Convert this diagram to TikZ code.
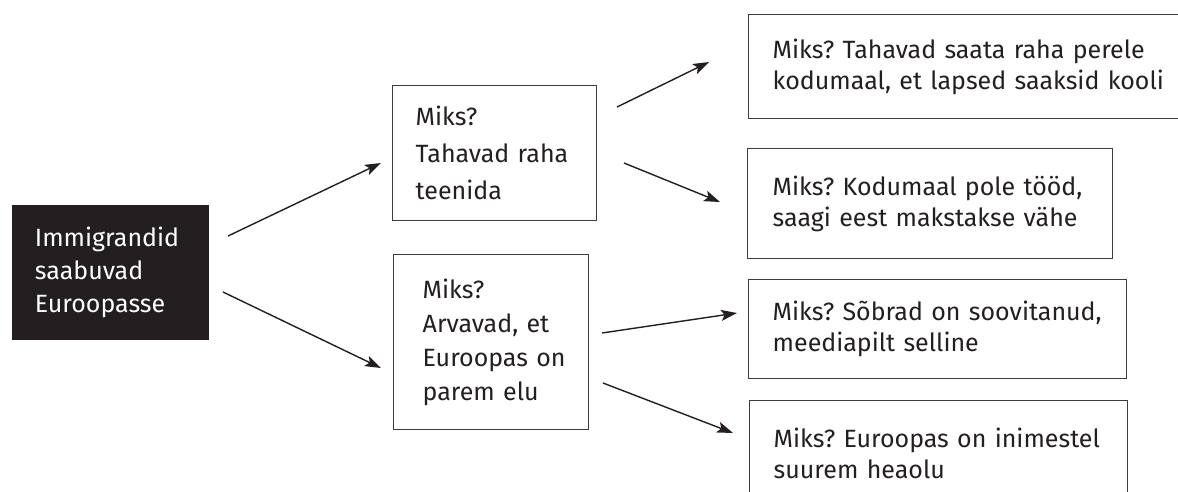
\documentclass[tikz,border=0pt]{standalone}
\usepackage{fontspec}
\setmainfont{Fira Sans}
\usetikzlibrary{arrows.meta}
\definecolor{ink}{HTML}{231F20}
\definecolor{frame}{HTML}{3C3C3C}
\frenchspacing
\tikzset{
  box/.style={draw=frame, line width=1.4pt, anchor=north west, inner sep=0pt,
    align=left, text=ink, font=\fontsize{25}{31}\selectfont},
  darkbox/.style={fill=ink, draw=none, anchor=north west, inner sep=0pt,
    align=left, text=white, font=\fontsize{25}{33}\selectfont},
  arr/.style={draw=ink, line width=1.4pt, -{Stealth[length=16pt,width=11pt,inset=3.5pt]}}
}
\begin{document}
\begin{tikzpicture}[x=1pt,y=-1pt]
\useasboundingbox (0,0) rectangle (1178,491);
% left box
\node[darkbox, text width=197pt, minimum height=135pt] (imm) at (11.7,205)
  {\frenchspacing\leftskip=23pt Immigrandid\\saabuvad\\Euroopasse\par};
% middle boxes
\node[box, text width=204pt, minimum height=135pt, font=\fontsize{25}{37}\selectfont] (raha) at (392,85)
  {\frenchspacing\leftskip=23pt Miks?\\Tahavad raha\\teenida\par};
\node[box, text width=195pt, minimum height=175pt, font=\fontsize{25}{34}\selectfont] (elu) at (393,254)
  {\frenchspacing\leftskip=29pt Miks?\\Arvavad, et\\Euroopas on\\parem elu\par};
% right boxes
\node[box, text width=452pt, minimum height=104pt] (saata) at (748,14)
  {\frenchspacing\leftskip=24pt Miks? Tahavad saata raha perele\\kodumaal, et lapsed saaksid kooli\par};
\node[box, text width=365pt, minimum height=110pt] (tood) at (747,148)
  {\frenchspacing\leftskip=25pt Miks? Kodumaal pole tööd,\\saagi eest makstakse vähe\par};
\node[box, text width=378pt, minimum height=99pt] (sobrad) at (748,279)
  {\frenchspacing\leftskip=24pt Miks? Sõbrad on soovitanud,\\meediapilt selline\par};
\node[box, text width=378pt, minimum height=105pt] (heaolu) at (749,400)
  {\frenchspacing\leftskip=24pt Miks? Euroopas on inimestel\\suurem heaolu\par};
% arrow end points
\coordinate (a1s) at (228,236); \coordinate (a1e) at (381,163);
\coordinate (a2s) at (223,292); \coordinate (a2e) at (381,368);
\coordinate (a3s) at (617,107); \coordinate (a3e) at (709,62);
\coordinate (a4s) at (624,163); \coordinate (a4e) at (720,202);
\coordinate (a5s) at (602,333); \coordinate (a5e) at (737,313);
\coordinate (a6s) at (603,383); \coordinate (a6e) at (733,433);
\draw[arr] (a1s) -- (a1e);
\draw[arr] (a2s) -- (a2e);
\draw[arr] (a3s) -- (a3e);
\draw[arr] (a4s) -- (a4e);
\draw[arr] (a5s) -- (a5e);
\draw[arr] (a6s) -- (a6e);
\end{tikzpicture}
\end{document}
